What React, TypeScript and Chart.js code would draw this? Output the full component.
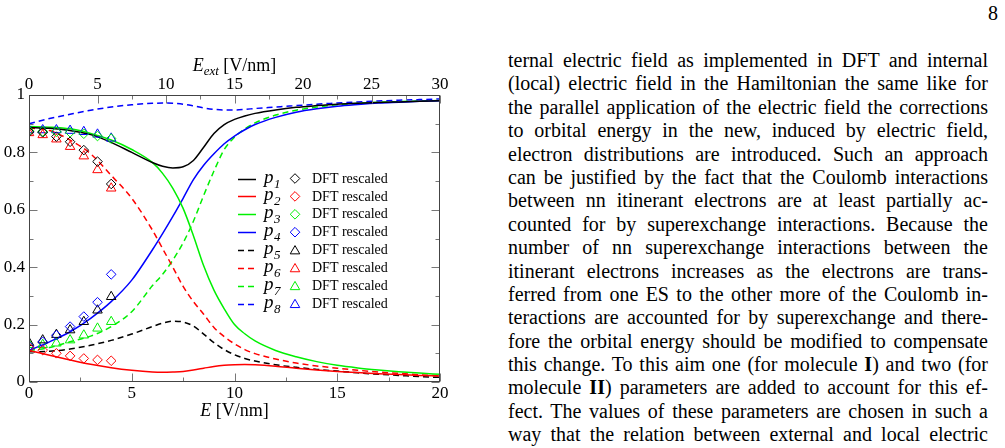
import React, { useEffect, useRef } from 'react';
import { Chart, registerables } from 'chart.js';

Chart.register(...registerables);

// ---------- data ----------
const E_GRID = [0, 1, 2, 3, 4, 5, 6, 6.5, 7, 7.5, 8, 8.5, 9, 9.5, 10, 10.5, 11, 12, 13, 14, 15, 16, 17, 18, 19, 20];
const P1 = [0.887, 0.884, 0.876, 0.862, 0.835, 0.800, 0.765, 0.752, 0.746, 0.750, 0.772, 0.818, 0.866, 0.897, 0.915, 0.927, 0.936, 0.948, 0.957, 0.963, 0.968, 0.971, 0.974, 0.976, 0.978, 0.980];
const P2 = [0.110, 0.093, 0.077, 0.062, 0.050, 0.041, 0.035, 0.034, 0.035, 0.037, 0.042, 0.048, 0.054, 0.058, 0.060, 0.061, 0.060, 0.055, 0.048, 0.042, 0.037, 0.033, 0.029, 0.026, 0.023, 0.021];
const P3 = [0.890, 0.888, 0.882, 0.866, 0.843, 0.810, 0.765, 0.727, 0.675, 0.605, 0.510, 0.405, 0.320, 0.255, 0.200, 0.168, 0.143, 0.110, 0.088, 0.071, 0.058, 0.049, 0.042, 0.036, 0.031, 0.027];
const P4 = [0.110, 0.140, 0.175, 0.222, 0.280, 0.355, 0.460, 0.517, 0.577, 0.640, 0.705, 0.755, 0.795, 0.830, 0.857, 0.879, 0.897, 0.922, 0.940, 0.952, 0.961, 0.967, 0.972, 0.975, 0.978, 0.980];
const P5 = [0.105, 0.107, 0.115, 0.128, 0.145, 0.167, 0.193, 0.205, 0.212, 0.209, 0.195, 0.167, 0.137, 0.113, 0.095, 0.082, 0.073, 0.060, 0.051, 0.044, 0.038, 0.032, 0.027, 0.023, 0.019, 0.016];
const P6 = [0.885, 0.876, 0.843, 0.795, 0.720, 0.640, 0.530, 0.465, 0.400, 0.333, 0.280, 0.236, 0.190, 0.158, 0.133, 0.113, 0.099, 0.080, 0.066, 0.056, 0.048, 0.041, 0.035, 0.030, 0.025, 0.021];
const P7 = [0.110, 0.120, 0.140, 0.160, 0.193, 0.245, 0.335, 0.375, 0.425, 0.485, 0.560, 0.650, 0.735, 0.810, 0.853, 0.882, 0.903, 0.930, 0.947, 0.958, 0.966, 0.971, 0.975, 0.977, 0.979, 0.981];
const P8 = [0.900, 0.918, 0.933, 0.947, 0.958, 0.966, 0.971, 0.972, 0.971, 0.968, 0.962, 0.955, 0.950, 0.948, 0.948, 0.950, 0.953, 0.958, 0.963, 0.968, 0.972, 0.976, 0.979, 0.982, 0.984, 0.986];

// DFT rescaled points, x in E_ext [V/nm]
const E_EXT_DFT = [0, 1, 2, 3, 4, 5, 6];
const DFT1 = [0.872, 0.870, 0.855, 0.837, 0.808, 0.768, 0.690];
const DFT2 = [0.120, 0.111, 0.100, 0.091, 0.082, 0.077, 0.074];
const DFT3 = [0.875, 0.873, 0.872, 0.870, 0.865, 0.857, 0.848];
const DFT4 = [0.125, 0.140, 0.163, 0.193, 0.228, 0.278, 0.375];
const DFT5 = [0.137, 0.146, 0.165, 0.181, 0.210, 0.250, 0.297];
const DFT6 = [0.868, 0.861, 0.846, 0.820, 0.787, 0.739, 0.675];
const DFT7 = [0.130, 0.130, 0.135, 0.146, 0.163, 0.187, 0.210];
const DFT8 = [0.878, 0.878, 0.878, 0.876, 0.872, 0.863, 0.849];

const SERIES_IDX = ['1', '2', '3', '4', '5', '6', '7', '8'];
const COLORS = ['#000000', '#ff0000', '#00f000', '#0000ff', '#000000', '#ff0000', '#00f000', '#0000ff'];
const DASHED = [false, false, false, false, true, true, true, true];
const MARKERS = ['rectRot', 'rectRot', 'rectRot', 'rectRot', 'triangle', 'triangle', 'triangle', 'triangle'];
const LEGEND_TEXT = 'DFT rescaled';

const X_TICKS_BOTTOM = [0, 5, 10, 15, 20];
const X_TICKS_TOP = [0, 5, 10, 15, 20, 25, 30];
const Y_TICKS = [0, 0.2, 0.4, 0.6, 0.8, 1];

const TEXT_LINES = [
  'ternal electric field as implemented in DFT and internal',
  '(local) electric field in the Hamiltonian the same like for',
  'the parallel application of the electric field the corrections',
  'to orbital energy in the new, induced by electric field,',
  'electron distributions are introduced. Such an approach',
  'can be justified by the fact that the Coulomb interactions',
  'between nn itinerant electrons are at least partially ac-',
  'counted for by superexchange interactions. Because the',
  'number of nn superexchange interactions between the',
  'itinerant electrons increases as the electrons are trans-',
  'ferred from one ES to the other more of the Coulomb in-',
  'teractions are accounted for by superexchange and there-',
  'fore the orbital energy should be modified to compensate',
  'this change. To this aim one (for molecule *I*) and two (for',
  'molecule *II*) parameters are added to account for this ef-',
  'fect. The values of these parameters are chosen in such a',
  'way that the relation between external and local electric',
];
const PAGE_NUMBER = '8';

const FONT = "'Liberation Serif', 'Times New Roman', Times, serif";

function drawMarker(ctx: any, style: string, x: number, y: number, r: number) {
  ctx.beginPath();
  if (style === 'triangle') {
    let rad = 0;
    ctx.moveTo(x + Math.sin(rad) * r, y - Math.cos(rad) * r);
    rad += (2 * Math.PI) / 3;
    ctx.lineTo(x + Math.sin(rad) * r, y - Math.cos(rad) * r);
    rad += (2 * Math.PI) / 3;
    ctx.lineTo(x + Math.sin(rad) * r, y - Math.cos(rad) * r);
  } else {
    ctx.moveTo(x - r, y);
    ctx.lineTo(x, y - r);
    ctx.lineTo(x + r, y);
    ctx.lineTo(x, y + r);
  }
  ctx.closePath();
  ctx.stroke();
}

const framePlugin = {
  id: 'framePlugin',
  afterDraw(chart: any) {
    const { ctx, chartArea: a, scales } = chart;
    const xs = scales.x, xt = scales.x2, ys = scales.y;
    ctx.save();
    const MAJ = 8, MIN = 4;
    ctx.lineWidth = 1;
    ctx.strokeStyle = '#777';
    ctx.setLineDash([]);
    const seq = (min: number, max: number, step: number) => {
      const out: number[] = [];
      const n = Math.round((max - min) / step);
      for (let k = 0; k <= n; k++) out.push(min + k * step);
      return out;
    };
    const isMul = (v: number, m: number) => Math.abs(v / m - Math.round(v / m)) < 1e-6;
    const L = Math.round(a.left) + 0.5, R = Math.round(a.right) - 0.5;
    const T = Math.round(a.top) + 0.5, B = Math.round(a.bottom) - 0.5;
    ctx.beginPath();
    for (const v of seq(xs.min, xs.max, 2.5)) {
      const px = Math.round(xs.getPixelForValue(v)) + 0.5;
      const len = isMul(v, 5) ? MAJ : MIN;
      ctx.moveTo(px, B); ctx.lineTo(px, B - len);
    }
    for (const v of seq(xt.min, xt.max, 2.5)) {
      const px = Math.round(xt.getPixelForValue(v)) + 0.5;
      const len = isMul(v, 5) ? MAJ : MIN;
      ctx.moveTo(px, T); ctx.lineTo(px, T + len);
    }
    for (const v of seq(ys.min, ys.max, 0.1)) {
      const py = Math.round(ys.getPixelForValue(v)) + 0.5;
      const len = isMul(v, 0.2) ? MAJ : MIN;
      ctx.moveTo(L, py); ctx.lineTo(L + len, py);
      ctx.moveTo(R, py); ctx.lineTo(R - len, py);
    }
    ctx.stroke();
    // frame
    ctx.strokeStyle = '#444';
    ctx.strokeRect(L, T, R - L, B - T);

    // axis titles
    ctx.fillStyle = '#000';
    ctx.textBaseline = 'alphabetic';
    ctx.textAlign = 'left';
    const cx = (a.left + a.right) / 2;
    // bottom: E [V/nm]
    ctx.font = `italic 18px ${FONT}`;
    const wE = ctx.measureText('E').width;
    ctx.font = `18px ${FONT}`;
    const wU = ctx.measureText(' [V/nm]').width;
    let x0 = cx - (wE + wU) / 2;
    const yb = 416;
    ctx.font = `italic 18px ${FONT}`;
    ctx.fillText('E', x0, yb);
    ctx.font = `18px ${FONT}`;
    ctx.fillText(' [V/nm]', x0 + wE, yb);
    // top: E_ext [V/nm]
    ctx.font = `italic 18px ${FONT}`;
    const wE2 = ctx.measureText('E').width;
    ctx.font = `italic 13px ${FONT}`;
    const wSub = ctx.measureText('ext').width;
    ctx.font = `18px ${FONT}`;
    const wU2 = ctx.measureText(' [V/nm]').width;
    x0 = cx - (wE2 + wSub + wU2) / 2;
    const yt = 71;
    ctx.font = `italic 18px ${FONT}`;
    ctx.fillText('E', x0, yt);
    ctx.font = `italic 13px ${FONT}`;
    ctx.fillText('ext', x0 + wE2, yt + 4);
    ctx.font = `18px ${FONT}`;
    ctx.fillText(' [V/nm]', x0 + wE2 + wSub, yt);

    // legend
    const LX = 238, LY = 178.5, DY = 17.9;
    for (let i = 0; i < 8; i++) {
      const y = LY + i * DY;
      const ds = chart.data.datasets[i];
      const mk = chart.data.datasets[8 + i];
      ctx.strokeStyle = ds.borderColor;
      ctx.lineWidth = 1.5;
      ctx.setLineDash(ds.borderDash || []);
      ctx.beginPath();
      ctx.moveTo(LX, Math.round(y) + 0.5);
      ctx.lineTo(LX + 18, Math.round(y) + 0.5);
      ctx.stroke();
      ctx.setLineDash([]);
      ctx.fillStyle = '#000';
      ctx.textBaseline = 'alphabetic';
      ctx.font = `italic 19px ${FONT}`;
      ctx.fillText('p', LX + 26, y + 4);
      ctx.font = `italic 13px ${FONT}`;
      ctx.fillText(SERIES_IDX[i], LX + 36, y + 9);
      ctx.strokeStyle = mk.borderColor;
      ctx.lineWidth = 1;
      drawMarker(ctx, mk.pointStyle, LX + 57, mk.pointStyle === 'triangle' ? y + 1 : y, mk.pointRadius);
      ctx.fillStyle = '#000';
      ctx.textBaseline = 'middle';
      ctx.font = `14px ${FONT}`;
      ctx.fillText(LEGEND_TEXT, LX + 74, y + 0.5);
    }
    ctx.restore();
  },
};

const fmt = (v: any) => String(Math.round(Number(v) * 100) / 100);

export default function App() {
  const ref = useRef<HTMLCanvasElement>(null);
  useEffect(() => {
    const canvas = ref.current;
    if (!canvas) return;
    const curves = [P1, P2, P3, P4, P5, P6, P7, P8];
    const dft = [DFT1, DFT2, DFT3, DFT4, DFT5, DFT6, DFT7, DFT8];
    const lineSets = curves.map((vals, i) => ({
      label: 'p' + SERIES_IDX[i],
      data: E_GRID.map((x, k) => ({ x, y: vals[k] })),
      xAxisID: 'x',
      yAxisID: 'y',
      borderColor: COLORS[i],
      backgroundColor: COLORS[i],
      borderWidth: 1.5,
      borderDash: DASHED[i] ? [6, 4] : [],
      pointRadius: 0,
      cubicInterpolationMode: 'monotone',
      fill: false,
      order: 1,
    }));
    const dftSets = dft.map((vals, i) => ({
      label: LEGEND_TEXT + ' ' + SERIES_IDX[i],
      data: E_EXT_DFT.map((x, k) => ({ x, y: vals[k] })),
      xAxisID: 'x2',
      yAxisID: 'y',
      showLine: false,
      pointStyle: MARKERS[i],
      pointRadius: MARKERS[i] === 'triangle' ? 5.5 : 4.8,
      pointBorderWidth: 1,
      borderWidth: 1,
      borderColor: COLORS[i],
      backgroundColor: 'rgba(0,0,0,0)',
      order: 0,
    }));
    const tickFont = { family: FONT, size: 17 };
    const chart = new Chart(canvas, {
      type: 'line',
      data: { datasets: [...lineSets, ...dftSets] as any },
      options: {
        animation: false,
        responsive: false,
        devicePixelRatio: 1,
        layout: { padding: { left: 0, right: 30, top: 0, bottom: 0 } },
        plugins: { legend: { display: false }, tooltip: { enabled: false } },
        scales: {
          x: {
            type: 'linear', position: 'bottom', min: 0, max: 20,
            grid: { display: false, drawTicks: false }, border: { display: false },
            afterBuildTicks: (s: any) => { s.ticks = X_TICKS_BOTTOM.map((v) => ({ value: v })); },
            ticks: { font: tickFont, color: '#000', padding: 1, maxRotation: 0, autoSkip: false, callback: fmt },
            afterFit: (s: any) => { s.height = 66; },
          },
          x2: {
            type: 'linear', position: 'top', min: 0, max: 30,
            grid: { display: false, drawTicks: false }, border: { display: false },
            afterBuildTicks: (s: any) => { s.ticks = X_TICKS_TOP.map((v) => ({ value: v })); },
            ticks: { font: tickFont, color: '#000', padding: 0, maxRotation: 0, autoSkip: false, callback: fmt },
            afterFit: (s: any) => { s.height = 95; },
          },
          y: {
            type: 'linear', position: 'left', min: 0, max: 1,
            grid: { display: false, drawTicks: false }, border: { display: false },
            afterBuildTicks: (s: any) => { s.ticks = Y_TICKS.map((v) => ({ value: v })); },
            ticks: { font: tickFont, color: '#000', padding: 4, autoSkip: false, callback: fmt },
            afterFit: (s: any) => { s.width = 29; },
          },
        },
      } as any,
      plugins: [framePlugin],
    });
    return () => chart.destroy();
  }, []);

  const renderLine = (s: string) =>
    s.split('*').map((seg, k) => (k % 2 === 1 ? <b key={k}>{seg}</b> : <span key={k}>{seg}</span>));

  return (
    <div style={{ position: 'absolute', left: 0, top: 0, width: 1005, height: 448, background: '#fff', overflow: 'hidden' }}>
      <canvas ref={ref} width={470} height={448} style={{ position: 'absolute', left: 0, top: 0, width: 470, height: 448 }} />
      <div style={{ position: 'absolute', left: 975, top: 2, width: 23, textAlign: 'right', fontFamily: FONT, fontSize: 20, lineHeight: '23.4px', color: '#000' }}>
        {PAGE_NUMBER}
      </div>
      <div style={{ position: 'absolute', left: 508, top: 49, width: 480, fontFamily: FONT, fontSize: 20, lineHeight: '23.4px', color: '#000' }}>
        {TEXT_LINES.map((l, i) => (
          <div key={i} style={{ textAlign: 'justify', textAlignLast: 'justify' as any, height: '23.4px' }}>
            {renderLine(l)}
          </div>
        ))}
      </div>
    </div>
  );
}
